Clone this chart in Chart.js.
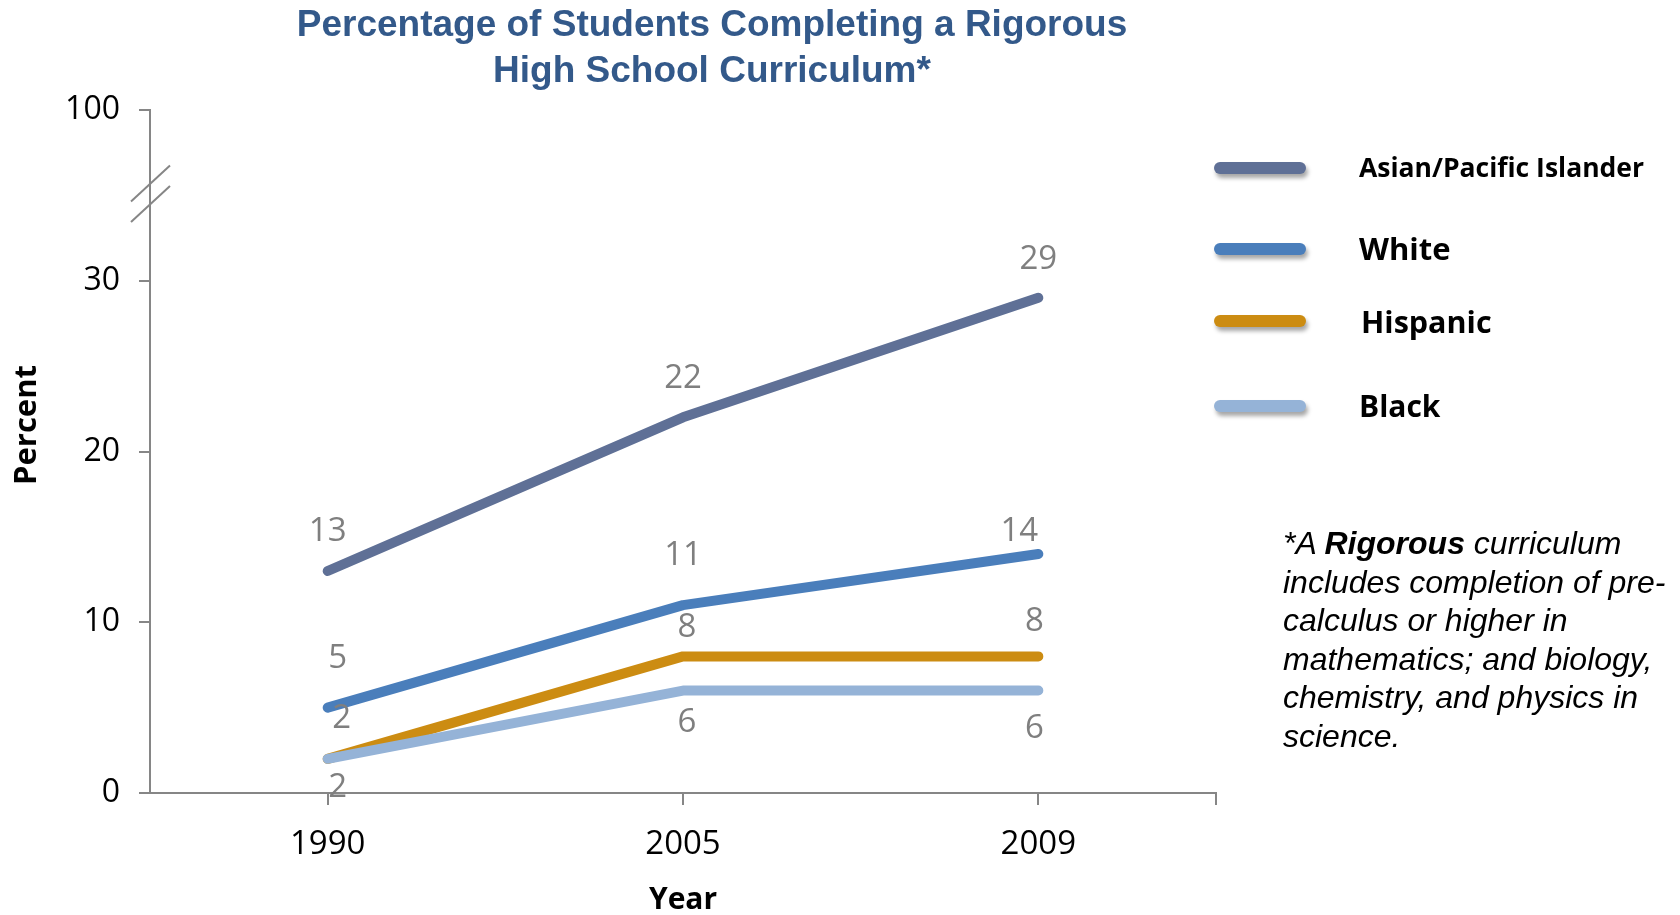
<!DOCTYPE html>
<html>
<head>
<meta charset="utf-8">
<script src="https://cdn.jsdelivr.net/npm/chart.js@4.4.1/dist/chart.umd.min.js"></script>
<style>
    body { margin: 0; background: #fff; }
    #wrap { position: relative; width: 1680px; height: 915px; overflow: hidden; }
    #grafik { position: absolute; left: 0; top: 0; }
    #judul {
        position: absolute; left: 250px; width: 924px; top: 1px;
        text-align: center; color: #33598a;
        font: bold 37px "Liberation Sans", Arial, sans-serif; line-height: 46px;
    }
    .leg-item { position: absolute; left: 1214px; height: 40px; }
    .leg-line {
        position: absolute; left: 0; width: 92px; height: 12px; border-radius: 6px;
        box-shadow: 2px 4px 4px rgba(0,0,0,0.35);
    }
    .leg-text {
        position: absolute; white-space: nowrap; color: #000;
        font-family: "Open Sans", sans-serif; font-weight: bold;
    }
    #catatan {
        position: absolute; left: 1283px; top: 524px; width: 400px; color: #000;
        font: italic 32px "Liberation Sans", Arial, sans-serif; line-height: 38.5px;
    }
</style>
</head>
<body>
<div id="wrap">
    <canvas id="grafik" width="1680" height="915"></canvas>
    <div id="judul">Percentage of Students Completing a Rigorous<br>High School Curriculum*</div>
    <div id="legenda"></div>
    <div id="catatan">*A <b>Rigorous</b> curriculum<br>includes completion of pre-<br>calculus or higher in<br>mathematics; and biology,<br>chemistry, and physics in<br>science.</div>
</div>

<script>
// =====================================================
// DATA
// =====================================================
const tahun = ['1990', '2005', '2009'];
const labelSumbuY = ['0', '10', '20', '30', '100'];   // 100 sits above the axis break

const namaSeri = ['Asian/Pacific Islander', 'White', 'Hispanic', 'Black'];
const nilaiAsian = [13, 22, 29];
const nilaiWhite = [5, 11, 14];
const nilaiHispanic = [2, 8, 8];
const nilaiBlack = [2, 6, 6];

// =====================================================
// GAYA
// =====================================================
const warnaSeri = ['#5f7096', '#4a7ebb', '#cc8c12', '#95b3d7'];
const ukuranLegenda = [26.5, 31, 30.5, 30];
const kiriLegenda = [145, 145, 147, 145];
const posisiLegenda = [148, 229, 301, 386];

// label offsets in px from the point (dx, dy)
const geserLabel = [
    [[0, -39], [0, -39], [0, -38]],
    [[10, -49], [0, -50], [-19, -22]],
    [[14, -40], [4, -29], [-4, -35]],
    [[10, 29], [4, 32], [-4, 38]]
];

const FONT = 'Open Sans';
const ABU = '#868686';

// =====================================================
// LEGENDA
// =====================================================
namaSeri.forEach((nama, i) => {
    const item = document.createElement('div');
    item.className = 'leg-item';
    item.style.top = posisiLegenda[i] + 'px';
    item.innerHTML =
        '<div class="leg-line" style="top:14px;background:' + warnaSeri[i] + '"></div>' +
        '<div class="leg-text" style="left:' + kiriLegenda[i] + 'px;font-size:' + ukuranLegenda[i] +
        'px;top:' + (20 - ukuranLegenda[i] * 0.7) + 'px">' + nama + '</div>';
    document.getElementById('legenda').appendChild(item);
});

// =====================================================
// PLUGIN: label angka, judul sumbu Y, tanda patah sumbu, tick ujung
// =====================================================
const pluginTambahan = {
    id: 'tambahan',
    afterDraw(chart) {
        const ctx = chart.ctx;
        const sx = chart.scales.x;
        const sy = chart.scales.y;

        // tick at right end of x axis
        ctx.save();
        ctx.strokeStyle = ABU;
        ctx.lineWidth = 2;
        ctx.beginPath();
        ctx.moveTo(sx.right, sy.bottom);
        ctx.lineTo(sx.right, sy.bottom + 12);
        ctx.stroke();

        // axis break marks
        [35.7, 34.5].forEach(v => {
            const y = sy.getPixelForValue(v);
            ctx.beginPath();
            ctx.moveTo(sx.left - 19, y + 18);
            ctx.lineTo(sx.left + 20, y - 18);
            ctx.stroke();
        });

        // y axis title
        ctx.save();
        ctx.translate(27, 425);
        ctx.rotate(-Math.PI / 2);
        ctx.font = 'bold 31px "' + FONT + '"';
        ctx.fillStyle = '#000';
        ctx.textAlign = 'center';
        ctx.textBaseline = 'middle';
        ctx.fillText('Percent', 0, 0);
        ctx.restore();

        // data labels
        ctx.font = '33px "' + FONT + '"';
        ctx.fillStyle = '#7f7f7f';
        ctx.textAlign = 'center';
        ctx.textBaseline = 'middle';
        chart.data.datasets.forEach((ds, i) => {
            const meta = chart.getDatasetMeta(i);
            meta.data.forEach((pt, j) => {
                const g = geserLabel[i][j];
                ctx.fillText(String(ds.data[j]), pt.x + g[0], pt.y + g[1]);
            });
        });
        ctx.restore();
    }
};

// =====================================================
// GRAFIK
// =====================================================
const semuaNilai = [nilaiAsian, nilaiWhite, nilaiHispanic, nilaiBlack];

new Chart(document.getElementById('grafik').getContext('2d'), {
    type: 'line',
    data: {
        labels: tahun,
        datasets: semuaNilai.map((nilai, i) => ({
            label: namaSeri[i],
            data: nilai,
            borderColor: warnaSeri[i],
            borderWidth: 10,
            borderCapStyle: 'round',
            borderJoinStyle: 'round',
            pointRadius: 0,
            fill: false,
            tension: 0,
            order: 3 - i
        }))
    },
    options: {
        responsive: false,
        animation: false,
        layout: { padding: { left: 0, top: 110, right: 464, bottom: 0 } },
        plugins: {
            legend: { display: false },
            tooltip: { enabled: false }
        },
        scales: {
            x: {
                offset: true,
                ticks: { font: { family: FONT, size: 33 }, color: '#000', padding: 20 },
                grid: { drawOnChartArea: false, tickLength: 12, color: ABU, lineWidth: 2, offset: false },
                border: { color: ABU, width: 2 },
                title: {
                    display: true, text: 'Year', color: '#000',
                    font: { family: FONT, size: 30, weight: 'bold' },
                    padding: { top: 0, bottom: -3 }
                },
                afterFit: s => { s.height = 122; }
            },
            y: {
                min: 0,
                max: 40,
                ticks: {
                    stepSize: 10,
                    font: { family: FONT, size: 32 },
                    color: '#000',
                    padding: 19,
                    callback: (v, idx) => labelSumbuY[idx]
                },
                grid: { drawOnChartArea: false, tickLength: 11, color: ABU, lineWidth: 2 },
                border: { color: ABU, width: 2 },
                afterFit: s => { s.width = 150; }
            }
        }
    },
    plugins: [pluginTambahan]
});
</script>
</body>
</html>
